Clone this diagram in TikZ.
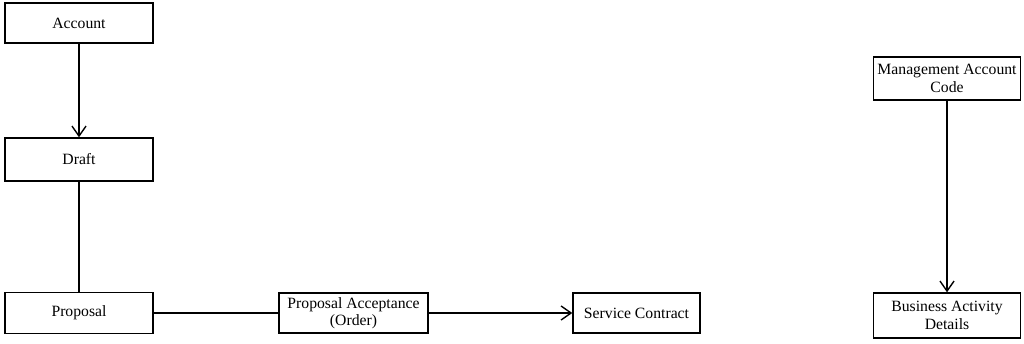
\documentclass[tikz,border=0pt]{standalone}
\usepackage{fontspec}
\setmainfont{Liberation Serif}
\usetikzlibrary{arrows.meta}
\begin{document}
\begin{tikzpicture}[x=1pt,y=-1pt,
  entity/.style={draw=black,line width=1.4pt,fill=white,inner sep=0pt,
    align=center,font=\fontsize{15.7}{17.5}\selectfont},
  link/.style={line width=1.4pt},
  flow/.style={line width=1.4pt,-{Straight Barb[length=10pt,width=14pt,line width=1.4pt]}}]
\useasboundingbox (0,0) rectangle (1024,343);
\node[entity,minimum width=148pt,minimum height=40pt] (acc) at (79,23) {Account};
\node[entity,minimum width=148pt,minimum height=43pt] (draft) at (79,159.5) {Draft};
\node[entity,minimum width=148pt,minimum height=41pt] (prop) at (79,313) {Proposal};
\node[entity,minimum width=149pt,minimum height=40pt] (acpt) at (353.5,313) {Proposal Acceptance\\(Order)};
\node[entity,minimum width=127pt,minimum height=40pt] (svc) at (636.5,313) {Service Contract};
\node[entity,minimum width=147pt,minimum height=43pt] (mac) at (947,78.5) {Management Account\\Code};
\node[entity,minimum width=147pt,minimum height=45pt] (bad) at (947,315.5) {Business Activity\\Details};
\draw[flow] (acc.south) -- (draft.north);
\draw[link] (draft.south) -- (prop.north);
\draw[link] (prop.east) -- (acpt.west);
\draw[flow] (acpt.east) -- (svc.west);
\draw[flow] (mac.south) -- (bad.north);
\end{tikzpicture}
\end{document}
